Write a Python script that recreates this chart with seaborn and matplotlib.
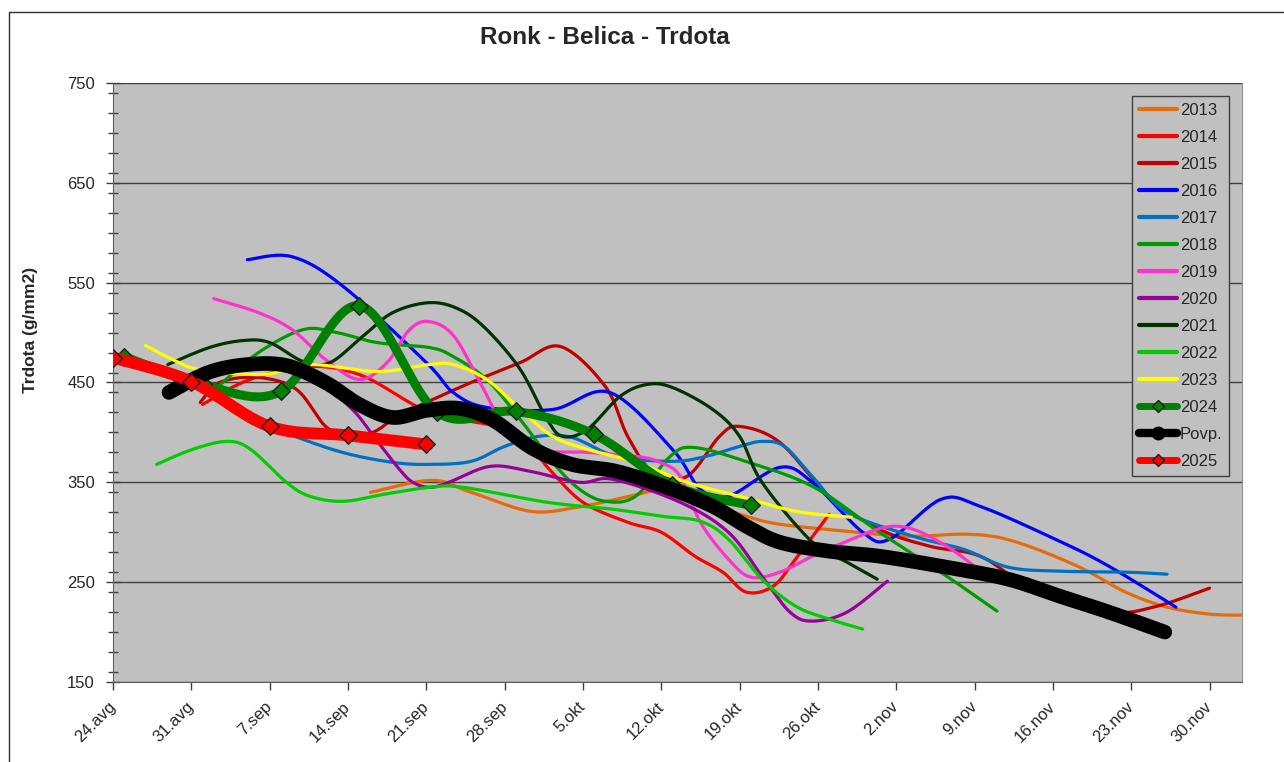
import numpy as np
import matplotlib
matplotlib.use("Agg")
import matplotlib.pyplot as plt
from matplotlib.lines import Line2D
from matplotlib.ticker import MultipleLocator
import seaborn as sns

# x = days after 24 Aug
tick_days = [0, 7, 14, 21, 28, 35, 42, 49, 56, 63, 70, 77, 84, 91, 98]
tick_labels = ["24.avg", "31.avg", "7.sep", "14.sep", "21.sep", "28.sep", "5.okt",
               "12.okt", "19.okt", "26.okt", "2.nov", "9.nov", "16.nov", "23.nov", "30.nov"]

days_2013 = [23, 28.5, 32, 37.3, 41.5, 46.2, 49.5, 53, 56.6, 59.6, 65.6, 71, 76.5, 80.5, 86.2, 90.5, 94.2, 98, 101]
vals_2013 = [340, 352, 340, 321, 325, 336, 343, 330, 316, 308, 301, 296, 298, 291, 266, 240, 225, 218, 217]

days_2014 = [8, 12, 17.3, 22, 26.5, 29, 32, 36, 39, 42, 46, 49, 52, 54.5, 56.6, 59, 61, 64]
vals_2014 = [428, 452, 466, 458, 430, 416, 411, 400, 363, 330, 310, 300, 276, 260, 240, 246, 273, 318]

days_2015 = [7.8, 9.5, 13, 16.4, 19, 21, 23.2, 25.4, 28, 32, 36.4, 40, 44, 46, 48.3, 51.3, 54.2, 56,
             59.6, 64, 68.5, 73, 77.5, 82, 89, 93, 98]
vals_2015 = [430, 450, 455, 443, 406, 398, 400, 416, 430, 450, 470, 486, 446, 396, 360, 356, 396, 406,
             390, 336, 303, 286, 276, 245, 221, 225, 244]

days_2016 = [12, 16, 20.6, 28, 30.4, 33.4, 39.3, 44.4, 50, 52.5, 55, 59.6, 62.5, 67, 69.4, 74, 77.5, 84.6, 89, 95]
vals_2016 = [573, 576, 546, 470, 440, 425, 423, 440, 383, 343, 336, 365, 350, 300, 293, 333, 326, 291, 266, 225]

days_2017 = [11, 15.8, 20.5, 25, 28.3, 32, 35, 38, 41, 45, 50, 53, 56, 58, 60, 62.5, 65.6, 71.5, 76, 80, 84.6, 90.6, 94.2]
vals_2017 = [420, 398, 380, 370, 368, 371, 386, 396, 395, 376, 371, 376, 386, 391, 386, 356, 320, 296, 283, 265, 261, 260, 258]

days_2018 = [9.5, 13, 17, 20, 23.6, 28.3, 30.4, 33.4, 36.4, 39.3, 41.7, 44, 46.7, 49.8, 51.8, 56, 62.5, 68.5, 74.5, 79]
vals_2018 = [447, 480, 503, 500, 490, 485, 476, 453, 413, 370, 343, 331, 336, 376, 385, 373, 346, 300, 256, 221]

days_2019 = [9, 13, 16, 19, 22, 24.5, 26.5, 28.3, 30.5, 33, 35, 38, 42.4, 46.8, 48.9, 50.7, 52.5, 55, 57, 59.6,
             62.5, 65.6, 69, 71.5, 74.5, 77]
vals_2019 = [534, 520, 503, 473, 453, 470, 503, 511, 496, 446, 406, 383, 380, 376, 370, 356, 310, 273, 255, 260,
             276, 291, 305, 303, 286, 266]

days_2020 = [12, 15, 18, 21.4, 23.5, 25.6, 26.8, 28.3, 30, 33.7, 37.3, 41.7, 44.7, 50.7, 55, 58, 60.5, 62.5, 65.6, 69.2]
vals_2020 = [468, 473, 455, 423, 393, 363, 350, 345, 350, 366, 361, 350, 353, 330, 300, 256, 220, 211, 220, 251]

days_2021 = [4.9, 8.6, 11.6, 14, 17, 19.4, 22.3, 25, 28.3, 31, 33.4, 36.4, 38.8, 40.2, 42.4, 45.3, 47.7, 50, 53.6,
             56, 58, 62.5, 65.6, 68.3]
vals_2021 = [468, 485, 492, 490, 471, 470, 496, 520, 530, 523, 503, 463, 413, 396, 403, 436, 448, 445, 423,
             396, 350, 290, 270, 253]

days_2022 = [3.9, 7.1, 10.2, 12.3, 15.5, 17.6, 20.6, 24.2, 28.3, 31.3, 38.8, 44.7, 49, 52.5, 55, 58, 61, 64, 67]
vals_2022 = [368, 383, 391, 383, 350, 336, 331, 338, 345, 345, 330, 323, 316, 311, 293, 253, 226, 213, 203]

days_2023 = [2.9, 5.7, 7.8, 13.4, 17.6, 23.6, 28.3, 30.4, 33.4, 36.4, 39.3, 42.4, 46.8, 51.3, 56, 61, 66]
vals_2023 = [487, 471, 463, 458, 468, 461, 468, 468, 453, 423, 396, 383, 370, 350, 336, 321, 315]

days_2024 = [1, 8, 15, 22, 29, 36, 43, 50, 57]
vals_2024 = [476, 448, 441, 527, 420, 421, 398, 347, 327]

days_avg = [5, 8.5, 12, 15.5, 19, 22, 25, 28, 31, 34, 37.5, 41, 45, 49.5, 53.6, 56.6, 59.6, 64, 68.5,
            74.5, 80, 84.6, 89, 94]
vals_avg = [440, 460, 468, 467, 450, 428, 415, 422, 424, 412, 384, 368, 361, 345, 326, 306, 290, 281, 276,
            265, 253, 236, 220, 200]

days_2025 = [0, 7, 14, 21, 28]
vals_2025 = [475, 451, 406, 397, 388]


def smooth(xs, ys, n=24):
    # Excel-like smoothed line (uniform Catmull-Rom through the points)
    pts = np.column_stack([xs, ys]).astype(float)
    p = np.vstack([pts[0], pts, pts[-1]])
    t = np.linspace(0, 1, n, endpoint=False)[:, None]
    segs = []
    for i in range(1, len(p) - 2):
        p0, p1, p2, p3 = p[i - 1], p[i], p[i + 1], p[i + 2]
        segs.append(0.5 * (2 * p1 + (p2 - p0) * t + (2 * p0 - 5 * p1 + 4 * p2 - p3) * t ** 2
                           + (3 * p1 - p0 - 3 * p2 + p3) * t ** 3))
    segs.append(pts[-1:])
    s = np.vstack(segs)
    return s[:, 0], s[:, 1]


series = [
    ("2013", days_2013, vals_2013, "#E46C0A", 2.3, None),
    ("2014", days_2014, vals_2014, "#FF0000", 2.3, None),
    ("2015", days_2015, vals_2015, "#C00000", 2.3, None),
    ("2016", days_2016, vals_2016, "#0000FF", 2.3, None),
    ("2017", days_2017, vals_2017, "#0070C0", 2.3, None),
    ("2018", days_2018, vals_2018, "#009900", 2.3, None),
    ("2019", days_2019, vals_2019, "#FF33CC", 2.3, None),
    ("2020", days_2020, vals_2020, "#990099", 2.3, None),
    ("2021", days_2021, vals_2021, "#003300", 2.3, None),
    ("2022", days_2022, vals_2022, "#00CC00", 2.3, None),
    ("2023", days_2023, vals_2023, "#FFFF00", 2.3, None),
    ("2024", days_2024, vals_2024, "#008000", 6.5, "D"),
    ("Povp.", days_avg, vals_avg, "#000000", 10.5, "o"),
    ("2025", days_2025, vals_2025, "#FF0000", 8.5, "D"),
]

sns.set_style("ticks", {"axes.facecolor": "#C0C0C0"})
plt.rcParams["font.family"] = ["Liberation Sans", "DejaVu Sans"]

fig = plt.figure(figsize=(12.84, 7.62), dpi=100)
ax = fig.add_axes([113 / 1284, 1 - 682 / 762, (1242 - 113) / 1284, (682 - 83) / 762])

handles = []
for k, (name, d, v, col, lw, mk) in enumerate(series):
    sx, sy = smooth(d, v)
    sns.lineplot(x=sx, y=sy, ax=ax, color=col, linewidth=lw, sort=False, estimator=None,
                 legend=False, zorder=3 + 2 * k, solid_capstyle="round", solid_joinstyle="round")
    if mk == "D":
        sns.scatterplot(x=d, y=v, ax=ax, marker="D", s=80, color=col, edgecolor="#202020",
                        linewidth=1, legend=False, zorder=4 + 2 * k)
    if mk == "D":
        h = Line2D([], [], color=col, lw=5, marker="D", markersize=6,
                   markerfacecolor=col, markeredgecolor="#202020", solid_capstyle="round")
    elif mk == "o":
        h = Line2D([], [], color=col, lw=6, marker="o", markersize=9, solid_capstyle="round")
    else:
        h = Line2D([], [], color=col, lw=3, solid_capstyle="round")
    handles.append((h, name))

ax.set_xlim(0, 100.9)
ax.set_ylim(150, 750)
ax.set_xticks(tick_days)
ax.set_xticklabels(tick_labels, rotation=45, ha="right", va="center", rotation_mode="anchor")
ax.set_yticks(range(150, 751, 100))
ax.yaxis.set_minor_locator(MultipleLocator(20))
ax.tick_params(axis="y", which="major", direction="inout", length=10, width=1, color="#404040",
               labelsize=12, pad=8)
ax.tick_params(axis="y", which="minor", direction="inout", length=7, width=1, color="#404040")
ax.tick_params(axis="x", which="major", direction="out", length=6, width=1, color="#404040",
               labelsize=12, pad=10)
ax.grid(axis="y", which="major", color="#404040", linewidth=1)
ax.grid(axis="x", visible=False)
ax.set_axisbelow(True)
ax.spines["top"].set_visible(False)
ax.spines["right"].set_color("#909090")
ax.spines["left"].set_color("#606060")
ax.spines["bottom"].set_color("#606060")
ax.set_xlabel("")
ax.set_ylabel("")

leg = ax.legend([h for h, _ in handles], [n for _, n in handles], loc="upper right",
                bbox_to_anchor=(0.9885, 0.978), borderaxespad=0, fontsize=12, frameon=True,
                fancybox=False, framealpha=1, edgecolor="#404040", labelspacing=0.72,
                handlelength=2.3, handletextpad=0.15, borderpad=0.4)
leg.get_frame().set_linewidth(1)
leg.set_zorder(50)

fig.text(605 / 1284, 1 - 38 / 762, "Ronk - Belica - Trdota", ha="center", va="center",
         fontsize=17.5, fontweight="bold")
fig.text(31 / 1284, 1 - 330 / 762, "Trdota (g/mm2)", ha="center", va="center", rotation=90,
         fontsize=12.5, fontweight="bold")

# chart border
fig.add_artist(Line2D([9 / 1284, 9 / 1284], [0, 1 - 12 / 762], color="#303030", lw=1))
fig.add_artist(Line2D([9 / 1284, 1], [1 - 12 / 762, 1 - 12 / 762], color="#303030", lw=1))

fig.savefig("out.png", dpi=100, facecolor="white")
